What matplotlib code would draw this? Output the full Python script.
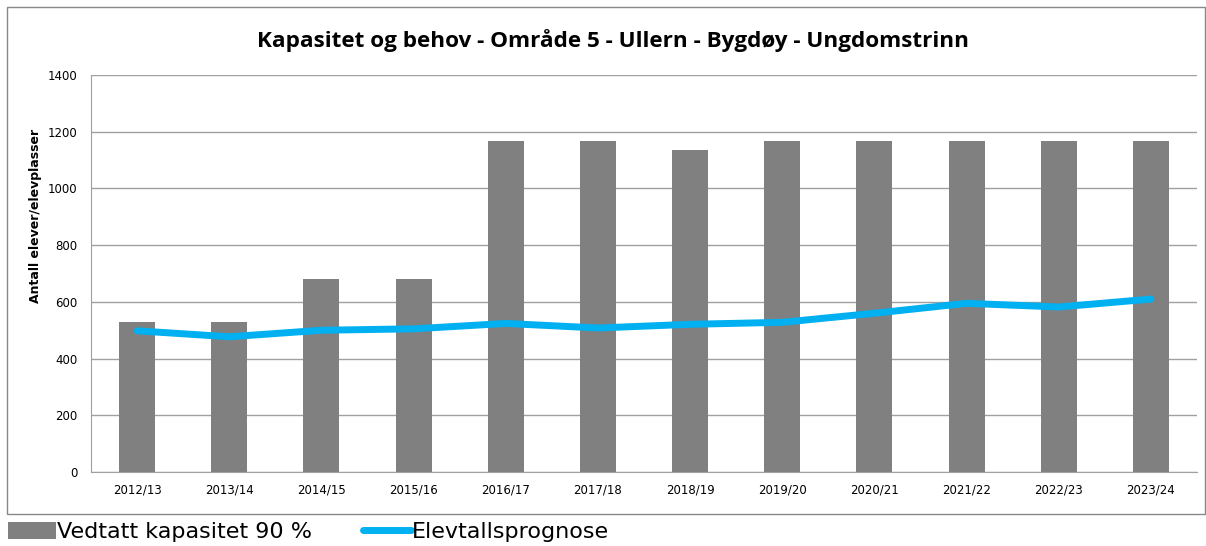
import matplotlib.pyplot as plt
from matplotlib.patches import Rectangle
import numpy as np

# Data
years = ['2012/13', '2013/14', '2014/15', '2015/16', '2016/17', '2017/18',
         '2018/19', '2019/20', '2020/21', '2021/22', '2022/23', '2023/24']
kapasitet = [529, 529, 680, 680, 1166, 1166, 1134, 1166, 1166, 1166, 1166, 1166]
prognose = [498, 477, 500, 505, 524, 508, 521, 528, 560, 595, 582, 610]

bar_color = '#808080'
line_color = '#00B0F0'

fig = plt.figure(figsize=(12.06, 5.46), dpi=100)
ax = fig.add_axes([0.0755, 0.1355, 0.917, 0.727])

x = np.arange(len(years))
bars = ax.bar(x, kapasitet, width=0.39, color=bar_color, zorder=2,
              label='Vedtatt kapasitet 90 %')
line, = ax.plot(x, prognose, color=line_color, linewidth=5,
                solid_capstyle='round', zorder=3, label='Elevtallsprognose')

ax.set_xlim(-0.5, len(years) - 0.5)
ax.set_ylim(0, 1400)
ax.set_yticks(range(0, 1401, 200))
ax.set_xticks(x)
ax.set_xticklabels(years)
ax.tick_params(axis='both', length=0, labelsize=8.5, pad=8)
ax.tick_params(axis='y', pad=10)
ax.grid(axis='y', color='#A0A0A0', linewidth=1, zorder=0)
for s in ['top', 'right']:
    ax.spines[s].set_visible(False)
ax.spines['left'].set_color('#A0A0A0')
ax.spines['bottom'].set_color('#A0A0A0')

ax.set_ylabel('Antall elever/elevplasser', fontsize=9, fontweight='bold')
ax.yaxis.set_label_coords(-0.0445, 0.645)
fig.text(0.508, 0.925, 'Kapasitet og behov - Område 5 - Ullern - Bygdøy - Ungdomstrinn',
         ha='center', va='center', fontsize=16.2, fontweight='bold', family='Open Sans')

# ramme rundt diagrammet
fig.patches.append(Rectangle((0.006, 0.059), 0.993, 0.929, transform=fig.transFigure,
                             fill=False, edgecolor='#888888', linewidth=1))

fig.legend(handles=[bars, line], loc='center left', bbox_to_anchor=(0.0066, 0.026),
           ncol=2, frameon=False, fontsize=16, handlelength=2.15, handleheight=0.8,
           handletextpad=0.05, columnspacing=2.3, borderaxespad=0, borderpad=0)

fig.savefig('out.png', dpi=100)
